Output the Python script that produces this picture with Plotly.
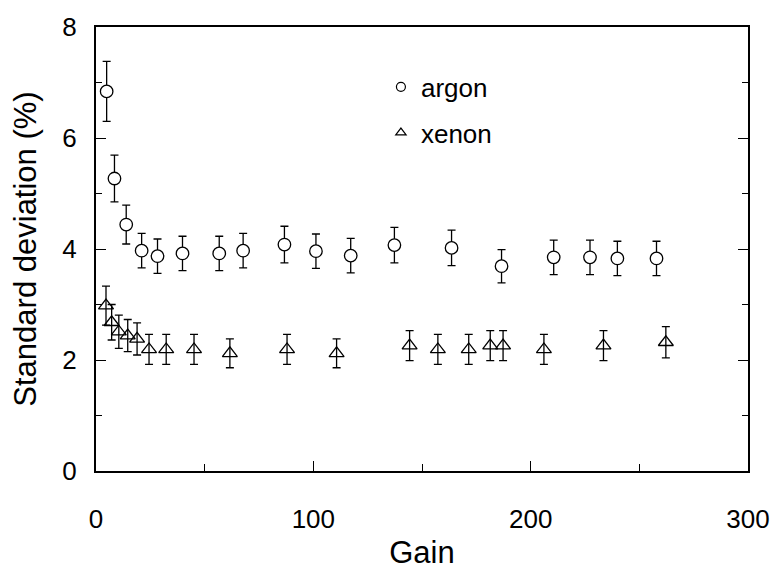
import plotly.graph_objects as go

argon_gain = [4.9, 8.5, 13.9, 21.0, 28.3, 39.8, 56.7, 67.7, 86.7, 101.2, 117.2, 137.3, 163.6, 186.6, 210.6, 227.3, 239.9, 257.9]
argon_sd = [6.84, 5.27, 4.44, 3.97, 3.87, 3.92, 3.92, 3.97, 4.08, 3.96, 3.88, 4.07, 4.02, 3.69, 3.85, 3.85, 3.83, 3.83]
argon_err = [0.54, 0.42, 0.35, 0.31, 0.31, 0.31, 0.31, 0.31, 0.33, 0.31, 0.31, 0.32, 0.32, 0.30, 0.31, 0.31, 0.31, 0.31]

xenon_gain = [4.6, 7.2, 10.5, 14.6, 18.9, 24.4, 32.3, 45.1, 61.6, 87.9, 110.7, 144.3, 157.3, 171.5, 181.4, 187.3, 206.1, 233.5, 262.2]
xenon_sd = [2.98, 2.68, 2.51, 2.44, 2.38, 2.19, 2.19, 2.19, 2.12, 2.19, 2.12, 2.26, 2.19, 2.19, 2.26, 2.26, 2.19, 2.26, 2.32]
xenon_err = [0.35, 0.32, 0.30, 0.29, 0.29, 0.27, 0.27, 0.27, 0.26, 0.27, 0.26, 0.27, 0.27, 0.27, 0.27, 0.27, 0.27, 0.27, 0.28]

series_names = ["argon", "xenon"]

font = dict(family="Liberation Sans, Arial, sans-serif", size=26, color="black")

fig = go.Figure()

fig.add_trace(go.Scatter(
    x=xenon_gain, y=xenon_sd, mode="markers", showlegend=False,
    marker=dict(symbol="triangle-up-open", size=13, color="black", line=dict(width=1.3, color="black")),
    error_y=dict(type="data", array=xenon_err, color="black", thickness=1.3, width=4),
))
fig.add_trace(go.Scatter(
    x=argon_gain, y=argon_sd, mode="markers", showlegend=False,
    marker=dict(symbol="circle", size=12.5, color="white", line=dict(width=1.3, color="black")),
    error_y=dict(type="data", array=argon_err, color="black", thickness=1.3, width=4),
))

# legend entries
fig.add_trace(go.Scatter(
    x=[None], y=[None], mode="markers", name=series_names[0], legend="legend",
    marker=dict(symbol="circle-open", size=9, color="black", line=dict(width=1.2)),
))
fig.add_trace(go.Scatter(
    x=[None], y=[None], mode="markers", name=series_names[1], legend="legend2",
    marker=dict(symbol="triangle-up-open", size=9, color="black", line=dict(width=1.2)),
))

leg_common = dict(xanchor="left", yanchor="top", bgcolor="rgba(0,0,0,0)",
                  font=dict(size=26), itemsizing="trace")

fig.update_layout(
    width=782, height=577,
    margin=dict(l=96, r=30, t=14.5, b=105.5),
    paper_bgcolor="white", plot_bgcolor="white",
    font=font,
    showlegend=True,
    legend=dict(x=0.437, y=0.918, **leg_common),
    legend2=dict(x=0.437, y=0.815, **leg_common),
    xaxis=dict(
        range=[0, 300], tickvals=[0, 100, 200, 300],
        showgrid=False, zeroline=False,
        showline=True, linecolor="black", linewidth=2, mirror=True,
        ticks="inside", ticklen=10, tickwidth=1.3, tickcolor="black",
        minor=dict(tickvals=[50, 150, 250], ticks="inside", ticklen=7, tickwidth=1.3, tickcolor="black"),
        ticklabelstandoff=24,
        title=dict(text="Gain", standoff=8),
    ),
    yaxis=dict(
        range=[0, 8], tickvals=[0, 2, 4, 6, 8],
        showgrid=False, zeroline=False,
        showline=True, linecolor="black", linewidth=2, mirror="ticks",
        ticks="inside", ticklen=10, tickwidth=1.3, tickcolor="black",
        minor=dict(tickvals=[1, 3, 5, 7], ticks="inside", ticklen=6, tickwidth=1.3, tickcolor="black"),
        ticklabelstandoff=12,
        title=dict(text="Standard deviation (%)", standoff=16),
    ),
)

fig.write_html("out.html")
